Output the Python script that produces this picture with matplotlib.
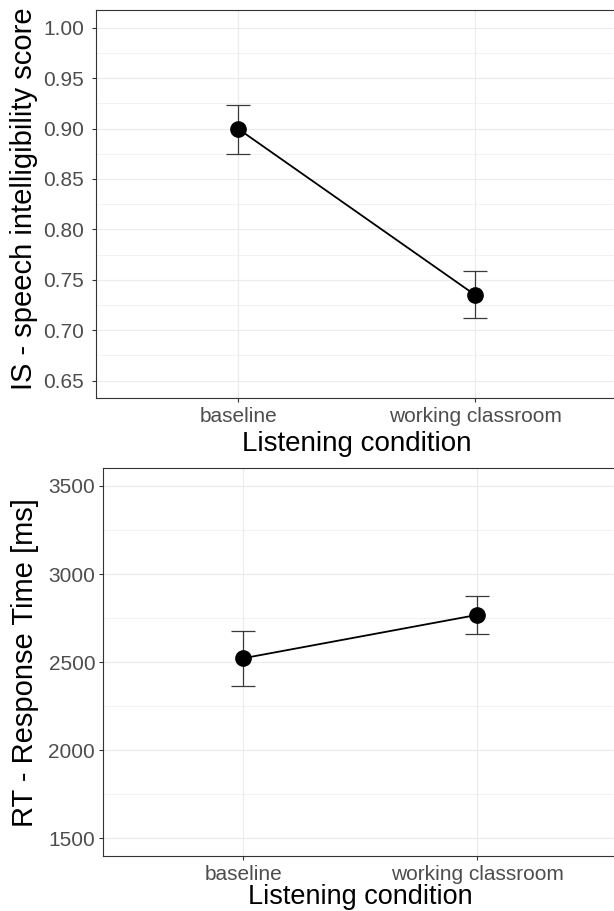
import matplotlib as mpl
mpl.use("Agg")
import matplotlib.pyplot as plt
import numpy as np


# data
conditions = ["baseline", "working classroom"]

is_mean = [0.8995, 0.735]
is_lower = [0.8746, 0.7119]
is_upper = [0.9234, 0.7586]

rt_mean = [2522, 2768]
rt_lower = [2363, 2662]
rt_upper = [2679, 2877]

is_ticks = [0.65, 0.70, 0.75, 0.80, 0.85, 0.90, 0.95, 1.00]
rt_ticks = [1500, 2000, 2500, 3000, 3500]


def draw_panel(ax, mean, lower, upper, yticks, ylim, ylabel, ylab_x, ylab_y, ypad):

	x = np.arange(1, len(conditions) + 1)
	mean = np.array(mean)
	err = [mean - np.array(lower), np.array(upper) - mean]

	ax.errorbar(x, mean, yerr = err, fmt = "none", ecolor = "#3a3a3a",
		elinewidth = 0.9, capsize = 8.4, capthick = 0.9, zorder = 3)
	ax.plot(x, mean, color = "black", linewidth = 1.3, zorder = 4)
	ax.plot(x, mean, "o", color = "black", markersize = 11, zorder = 5)

	ax.set_xlim(0.4, 2.6)
	ax.set_ylim(ylim)
	ax.set_xticks(x)
	ax.set_xticklabels(conditions)
	ax.set_yticks(yticks)
	if isinstance(yticks[0], float):
		ax.set_yticklabels(["%.2f" % t for t in yticks])
	#end_if
	step = yticks[1] - yticks[0]
	ax.set_yticks(np.array(yticks[:-1]) + step / 2.0, minor = True)

	ax.grid(True, which = "major", color = "#EBEBEB", linewidth = 0.8, zorder = 0)
	ax.grid(True, which = "minor", axis = "y", color = "#EBEBEB", linewidth = 0.45, zorder = 0)
	ax.set_axisbelow(True)

	for s in ax.spines.values():
		s.set_color("#333333")
		s.set_linewidth(0.8)
	#end_for

	ax.tick_params(which = "major", length = 2.9, width = 0.8, color = "#333333",
		labelsize = 15, labelcolor = "#4D4D4D", pad = 3.5)
	ax.tick_params(axis = "y", which = "major", pad = ypad)
	ax.tick_params(which = "minor", length = 0)

	ax.set_ylabel(ylabel, fontsize = 21, color = "black")
	ax.yaxis.set_label_coords(ylab_x, ylab_y)

	return

#end_def


def main():

	plt.rcParams["font.family"] = ["Liberation Sans", "DejaVu Sans"]

	fig = plt.figure(figsize = (6.14, 9.11), dpi = 100)
	W = 614.0
	H = 911.0

	# top panel, px: left 96.5, right 617, top 10, bottom 398
	ax1 = fig.add_axes([96.5 / W, 1 - 398.3 / H, (617 - 96.5) / W, (398.3 - 10) / H])
	draw_panel(ax1, is_mean, is_lower, is_upper, is_ticks, (0.6325, 1.0175),
		"IS - speech intelligibility score", -0.112, 0.515, 6.0)
	ax1.set_xlabel("Listening condition", fontsize = 20, color = "black")
	ax1.xaxis.set_label_coords(0.5, -0.085)

	# bottom panel, px: left 102.8, right 617.4, top 468.3, bottom 856
	ax2 = fig.add_axes([102.8 / W, 1 - 856 / H, (617.4 - 102.8) / W, (856 - 468.3) / H])
	draw_panel(ax2, rt_mean, rt_lower, rt_upper, rt_ticks, (1400, 3600),
		"RT - Response Time [ms]", -0.124, 0.5, 2.6)
	# title sits at the very bottom edge, as in the reference
	ax2.set_xlabel("Listening condition", fontsize = 19.5, color = "black")
	ax2.xaxis.label.set_verticalalignment("bottom")
	ax2.xaxis.set_label_coords(0.5, (856 - 910.0) / (856 - 468.3))

	fig.savefig("out.png", dpi = 100)

	return

#end_def


main()
